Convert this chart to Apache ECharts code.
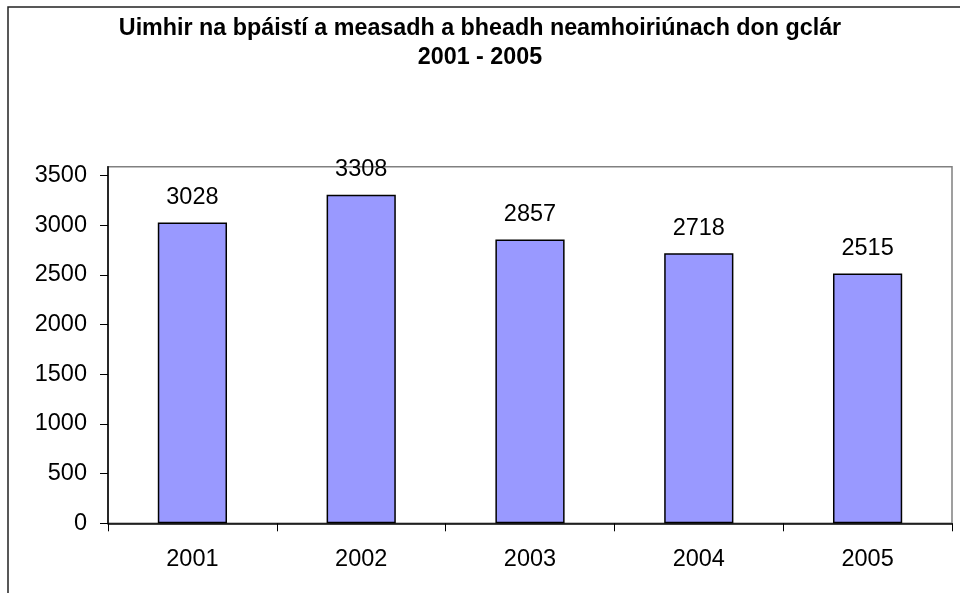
<!DOCTYPE html>
<html><head><meta charset="utf-8">
<script src="https://cdn.jsdelivr.net/npm/echarts@6/dist/echarts.min.js"></script>
<style>html,body{margin:0;padding:0;background:#fff}#c{width:960px;height:593px}</style>
</head><body><div id="c"></div>
<script>
const categories = ['2001', '2002', '2003', '2004', '2005'];
const values = [3028, 3308, 2857, 2718, 2515];
const yTicks = [0, 500, 1000, 1500, 2000, 2500, 3000, 3500];
const titleLines = ['Uimhir na bpáistí a measadh a bheadh neamhoiriúnach don gclár', '2001 - 2005'];

const FONT = 'Liberation Sans, Arial, sans-serif';
const chart = echarts.init(document.getElementById('c'), null, {renderer: 'canvas'});
chart.setOption({
  backgroundColor: '#fff',
  animation: false,
  title: {
    text: titleLines.join('\n'),
    left: 475, top: 9, textAlign: 'center',
    textStyle: {fontFamily: FONT, fontWeight: 'bold', fontSize: 23.3, lineHeight: 29, color: '#000'}
  },
  graphic: [{
    type: 'rect', shape: {x: 8, y: 7, width: 1200, height: 1200},
    style: {fill: 'none', stroke: '#222', lineWidth: 1.5}, silent: true, z: 100
  }],
  grid: {left: 108, right: 8, top: 166.7, bottom: 69.7, show: true, borderColor: '#808080', borderWidth: 1.5, backgroundColor: 'transparent'},
  xAxis: {
    type: 'category', data: categories,
    axisLine: {lineStyle: {color: '#000', width: 1.5}},
    axisTick: {show: true, alignWithLabel: false, length: 8, lineStyle: {color: '#000', width: 1}},
    axisLabel: {margin: 24, fontFamily: FONT, fontSize: 23.5, color: '#000'}
  },
  yAxis: {
    type: 'value', min: 0, max: 3590,
    axisLine: {show: true, lineStyle: {color: '#000', width: 1.5}},
    axisTick: {show: true, length: 8, customValues: yTicks, lineStyle: {color: '#000', width: 1}},
    axisLabel: {margin: 21, fontFamily: FONT, fontSize: 23.5, color: '#000', customValues: yTicks, formatter: v => String(v)},
    splitLine: {show: false}
  },
  series: [{
    type: 'bar', data: values, barWidth: '41%',
    itemStyle: {color: '#9999FF', borderColor: '#000', borderWidth: 1.5},
    label: {show: true, position: 'top', distance: 13, fontFamily: FONT, fontSize: 23.5, color: '#000'}
  }]
});
</script></body></html>
